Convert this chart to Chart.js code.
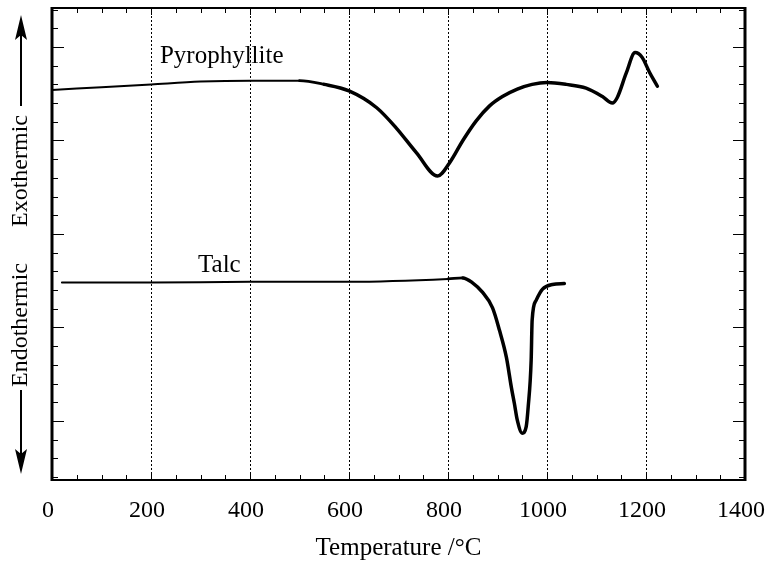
<!DOCTYPE html>
<html>
<head>
<meta charset="utf-8">
<script src="https://cdn.jsdelivr.net/npm/chart.js@4.4.0/dist/chart.umd.min.js"></script>
<style>
  html, body { margin: 0; padding: 0; background: #fff; }
  #wrap { width: 766px; height: 565px; }
</style>
</head>
<body>
<div id="wrap"><canvas id="dtaChart" width="766" height="565"></canvas></div>
<script>
// DTA curves (y is in arbitrary heat-flow units)
const pyroTemp   = [0, 100, 200, 300, 400, 500, 550, 600, 656, 696, 736, 779, 803, 830, 857, 884, 910, 940, 970, 1000, 1039, 1079, 1112, 1132, 1142, 1160, 1178, 1192, 1207, 1223];
const pyroSignal = [3.54, 3.57, 3.60, 3.63, 3.64, 3.64, 3.60, 3.53, 3.35, 3.13, 2.87, 2.62, 2.76, 3.00, 3.21, 3.37, 3.47, 3.55, 3.60, 3.62, 3.60, 3.56, 3.47, 3.40, 3.46, 3.72, 3.94, 3.89, 3.73, 3.58];

const talcTemp   = [20, 200, 400, 600, 800, 830, 849, 869, 890, 904, 918, 928, 934, 940, 950, 958, 962, 968, 970, 978, 991, 1011, 1035];
const talcSignal = [1.48, 1.48, 1.49, 1.49, 1.52, 1.53, 1.48, 1.38, 1.21, 0.97, 0.68, 0.36, 0.19, 0.01, -0.13, -0.06, 0.15, 0.65, 1.08, 1.29, 1.41, 1.46, 1.47];

const tempTicks = [0, 200, 400, 600, 800, 1000, 1200, 1400];
const curveNames = ['Pyrophyllite', 'Talc'];
const curveLabelAt = [[218, 3.83], [295, 1.59]];

const serif = '"Liberation Serif", "Times New Roman", serif';

function toPoints(xs, ys) {
  return xs.map((t, i) => ({ x: t, y: ys[i] }));
}

// thin on the flat baseline, heavier where the curve bends
function widthFor(start) {
  return c => {
    const t = c.p0.parsed.x;
    if (t < start - 100) return 2;
    if (t < start) return 2.7;
    return 3.5;
  };
}

// frame, inward ticks, curve names and the exo/endo axis caption
const framePlugin = {
  id: 'frame',
  afterDraw(chart) {
    const { ctx, chartArea: a, scales: { x, y } } = chart;
    ctx.save();
    ctx.strokeStyle = '#000';
    ctx.fillStyle = '#000';

    ctx.lineWidth = 1;
    ctx.beginPath();
    for (let t = 50; t < 1400; t += 50) {
      const px = Math.round(x.getPixelForValue(t)) + 0.5;
      const len = t % 200 === 0 ? 7 : 5;
      ctx.moveTo(px, a.bottom); ctx.lineTo(px, a.bottom - len);
      ctx.moveTo(px, a.top); ctx.lineTo(px, a.top + len);
    }
    for (let k = -3; k <= 22; k++) {
      const py = Math.round(y.getPixelForValue(k * 0.2)) + 0.5;
      if (py <= a.top + 2 || py >= a.bottom - 2) continue;
      const len = k % 5 === 0 ? 12 : 6;
      ctx.moveTo(a.left, py); ctx.lineTo(a.left + len, py);
      ctx.moveTo(a.right, py); ctx.lineTo(a.right - len, py);
    }
    ctx.stroke();

    ctx.lineWidth = 2;
    ctx.strokeRect(a.left, a.top, a.right - a.left, a.bottom - a.top);
    ctx.lineWidth = 3;
    ctx.beginPath();
    ctx.moveTo(a.left, a.top - 1); ctx.lineTo(a.left, a.bottom + 1);
    ctx.moveTo(a.right, a.top - 1); ctx.lineTo(a.right, a.bottom + 1);
    ctx.stroke();

    ctx.font = '25px ' + serif;
    ctx.textBaseline = 'alphabetic';
    ctx.textAlign = 'left';
    curveNames.forEach((name, i) => {
      const [t, v] = curveLabelAt[i];
      ctx.fillText(name, x.getPixelForValue(t), y.getPixelForValue(v));
    });

    // vertical caption with arrows
    const cx = 21;
    ctx.font = '24px ' + serif;
    ctx.save();
    ctx.translate(cx, 0);
    ctx.rotate(-Math.PI / 2);
    ctx.textAlign = 'center';
    ctx.textBaseline = 'middle';
    ctx.fillText('Exothermic', -171, 0);
    ctx.fillText('Endothermic', -325, 0);
    ctx.restore();

    ctx.lineWidth = 2;
    ctx.beginPath();
    ctx.moveTo(cx, 106); ctx.lineTo(cx, 34);
    ctx.moveTo(cx, 390); ctx.lineTo(cx, 455);
    ctx.stroke();
    ctx.beginPath();
    ctx.moveTo(cx, 15); ctx.lineTo(cx - 6, 40); ctx.lineTo(cx, 35); ctx.lineTo(cx + 6, 40); ctx.closePath();
    ctx.moveTo(cx, 474); ctx.lineTo(cx - 6, 449); ctx.lineTo(cx, 454); ctx.lineTo(cx + 6, 449); ctx.closePath();
    ctx.fill();
    ctx.restore();
  }
};

const ctx = document.getElementById('dtaChart').getContext('2d');
new Chart(ctx, {
  type: 'line',
  data: {
    datasets: [{
      label: curveNames[0],
      data: toPoints(pyroTemp, pyroSignal),
      borderColor: '#000',
      borderWidth: 3.5,
      borderCapStyle: 'round',
      borderJoinStyle: 'round',
      pointRadius: 0,
      cubicInterpolationMode: 'monotone',
      segment: { borderWidth: widthFor(550) }
    }, {
      label: curveNames[1],
      data: toPoints(talcTemp, talcSignal),
      borderColor: '#000',
      borderWidth: 3.5,
      borderCapStyle: 'round',
      borderJoinStyle: 'round',
      pointRadius: 0,
      cubicInterpolationMode: 'monotone',
      segment: { borderWidth: widthFor(830) }
    }]
  },
  options: {
    responsive: false,
    animation: false,
    devicePixelRatio: 1,
    layout: { padding: { top: 8, right: 21, left: 0, bottom: 0 } },
    plugins: { legend: { display: false }, tooltip: { enabled: false } },
    scales: {
      x: {
        type: 'linear',
        min: 0,
        max: 1400,
        afterBuildTicks: s => { s.ticks = tempTicks.map(v => ({ value: v })); },
        afterFit: s => { s.height = 85; s.paddingLeft = 0; s.paddingRight = 0; },
        grid: { color: '#000', lineWidth: 1, drawTicks: false },
        border: { display: false, dash: [2, 2] },
        ticks: {
          color: '#000',
          font: { family: serif, size: 24 },
          padding: 16,
          labelOffset: -4,
          maxRotation: 0,
          callback: v => String(v)
        },
        title: { display: true, text: 'Temperature /°C', color: '#000', font: { family: serif, size: 25 }, padding: { top: 0, bottom: 2 } }
      },
      y: {
        min: -0.631,
        max: 4.417,
        afterFit: s => { s.width = 52; },
        grid: { display: false },
        border: { display: false },
        ticks: { display: false }
      }
    }
  },
  plugins: [framePlugin]
});
</script>
</body>
</html>
